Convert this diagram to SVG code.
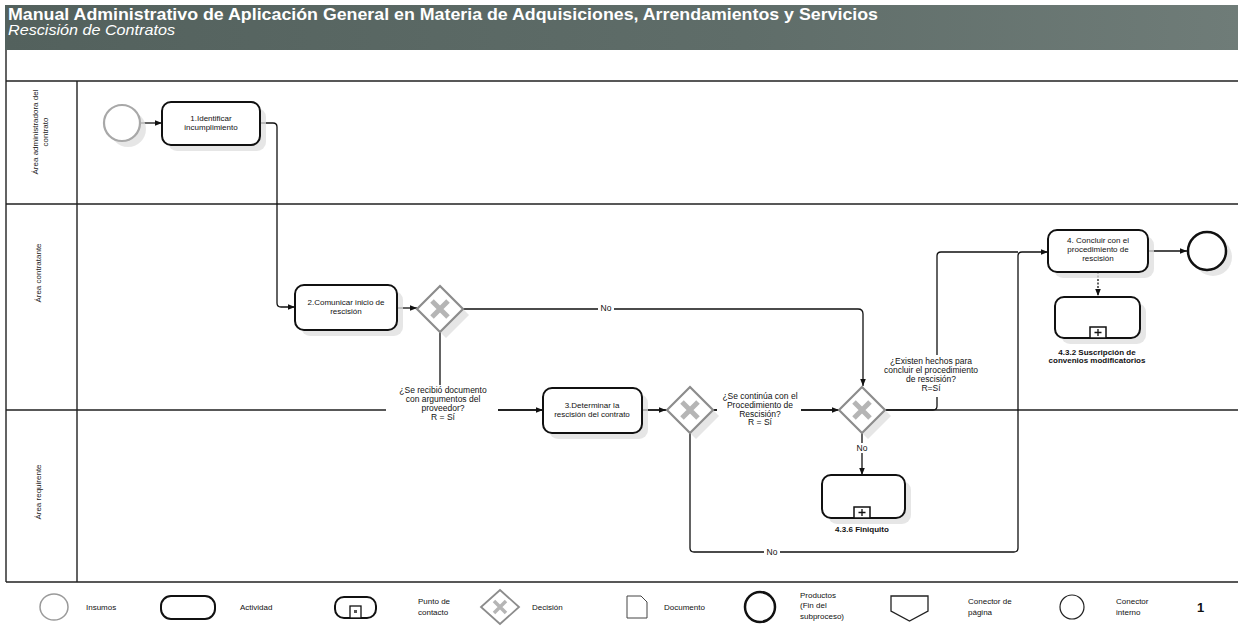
<svg xmlns="http://www.w3.org/2000/svg" width="1238" height="631" viewBox="0 0 1238 631">
<defs>
<linearGradient id="hdr" x1="0" y1="0" x2="1" y2="0">
<stop offset="0" stop-color="#53615d"/>
<stop offset="0.6" stop-color="#5f6d69"/>
<stop offset="1" stop-color="#6f7c78"/>
</linearGradient>
<marker id="arr" viewBox="0 0 10 10" refX="10" refY="5" markerWidth="7" markerHeight="7" orient="auto" markerUnits="userSpaceOnUse">
<path d="M0,1 L10,5 L0,9 Z" fill="#111"/>
</marker>
<g id="gw">
<path d="M0,-23 L23,0 L0,23 L-23,0 Z" fill="#fff" stroke="#8c8c8c" stroke-width="2.2"/>
<path d="M-8,-8 L8,8 M8,-8 L-8,8" stroke="#b5b5b5" stroke-width="5"/>
</g>
</defs>
<style>
text{font-family:"Liberation Sans",Arial,sans-serif;fill:#111}
.t{font-size:8px;text-anchor:middle}
.lb{font-size:8.5px;text-anchor:middle}
.b{font-weight:bold}
.ln{stroke:#222;stroke-width:1.4;fill:none}
.lane{font-size:8px;text-anchor:middle;fill:#222}
.task{fill:#fff;stroke:#111;stroke-width:2}
.sh{fill:#dedede;opacity:0.75}
.c{fill:none;stroke:#111;stroke-width:1.3}
.bg{fill:#fff}
.lg{font-size:8px}
</style>
<rect width="1238" height="631" fill="#fff"/>
<g id="header">
<rect x="5" y="5" width="1233" height="45" fill="url(#hdr)"/>
<text x="8" y="20" font-size="16" font-weight="bold" textLength="870" lengthAdjust="spacingAndGlyphs" style="fill:#fff">Manual Administrativo de Aplicación General en Materia de Adquisiciones, Arrendamientos y Servicios</text>
<text x="8" y="35" font-size="14" font-style="italic" textLength="167" lengthAdjust="spacingAndGlyphs" style="fill:#fff">Rescisión de Contratos</text>
</g>
<g id="lanes">
<path class="ln" d="M6,50 V582 M6,81 H1238 M6,204 H1238 M6,410 H1238 M6,582 H1238 M77,81 V582"/>
<text class="lane" transform="translate(40,132) rotate(-90)"><tspan x="0" y="-2">Área administradora del</tspan><tspan x="0" y="8">contrato</tspan></text>
<text class="lane" transform="translate(41,273) rotate(-90)">Área contratante</text>
<text class="lane" transform="translate(41,492) rotate(-90)">Área requirente</text>
</g>
<g id="connectors">
<path class="c" d="M140,123 H162" marker-end="url(#arr)"/>
<path class="c" d="M260,123 H273 Q277,123 277,127 V303 Q277,307 281,307 H295" marker-end="url(#arr)"/>
<path class="c" d="M397,308 H417" marker-end="url(#arr)"/>
<path class="c" d="M463,309 H858 Q863,309 863,314 V386" marker-end="url(#arr)"/>
<rect class="bg" x="598" y="302" width="16" height="10"/>
<text class="lb" x="606" y="311">No</text>
<path class="c" d="M440,331 V406 Q440,410 444,410 H543" marker-end="url(#arr)"/>
<rect class="bg" x="386" y="385" width="112" height="40"/>
<text class="lb"><tspan x="443" y="393">¿Se recibió documento</tspan><tspan x="443" y="402">con argumentos del</tspan><tspan x="443" y="411">proveedor?</tspan><tspan x="443" y="420">R = Sí</tspan></text>
<path class="c" d="M642,410 H666" marker-end="url(#arr)"/>
<path class="c" d="M713,410 H839" marker-end="url(#arr)"/>
<rect class="bg" x="717" y="391" width="84" height="36"/>
<text class="lb"><tspan x="760" y="399">¿Se continúa con el</tspan><tspan x="760" y="408">Procedimiento de</tspan><tspan x="760" y="417">Rescisión?</tspan><tspan x="760" y="425">R = Sí</tspan></text>
<path class="c" d="M862,433 V475" marker-end="url(#arr)"/>
<rect class="bg" x="855" y="443" width="14" height="10"/>
<text class="lb" x="862" y="451">No</text>
<path class="c" d="M690,433 V548 Q690,552 694,552 H1014 Q1018,552 1018,548 V256 Q1018,252 1022,252 H1048" marker-end="url(#arr)"/>
<rect class="bg" x="764" y="547" width="16" height="10"/>
<text class="lb" x="772" y="555">No</text>
<path class="c" d="M885,410 H933 Q937,410 937,406 V256 Q937,252 941,252 H1018"/>
<rect class="bg" x="880" y="355" width="102" height="42"/>
<text class="lb"><tspan x="931" y="364">¿Existen hechos para</tspan><tspan x="931" y="373">concluir el procedimiento</tspan><tspan x="931" y="382">de rescisión?</tspan><tspan x="931" y="391">R=Sí</tspan></text>
<path class="c" d="M1148,251 H1187" marker-end="url(#arr)"/>
<path class="c" d="M1098,272 V296" stroke-dasharray="2,1.5" marker-end="url(#arr)"/>
</g>
<g id="start">
<circle class="sh" cx="128" cy="129" r="18"/>
<circle cx="122" cy="123" r="18" fill="#fff" stroke="#a8a8a8" stroke-width="2.2"/>
</g>
<g id="task1">
<rect class="sh" x="168" y="108" width="98" height="43" rx="9"/>
<rect class="task" x="162" y="102" width="98" height="43" rx="9"/>
<text class="t"><tspan x="211" y="121">1.Identificar</tspan><tspan x="211" y="130">incumplimiento</tspan></text>
</g>
<g id="task2">
<rect class="sh" x="301" y="291" width="102" height="45" rx="9"/>
<rect class="task" x="295" y="285" width="102" height="45" rx="9"/>
<text class="t"><tspan x="346" y="305">2.Comunicar inicio de</tspan><tspan x="346" y="314">rescisión</tspan></text>
</g>
<g id="gateway1">
<path class="sh" d="M446,292 L469,315 L446,338 L423,315 Z"/>
<use href="#gw" x="440" y="309"/>
</g>
<g id="task3">
<rect class="sh" x="549" y="394" width="99" height="45" rx="9"/>
<rect class="task" x="543" y="388" width="99" height="45" rx="9"/>
<text class="t"><tspan x="592" y="408">3.Determinar la</tspan><tspan x="592" y="417">rescisión del contrato</tspan></text>
</g>
<g id="gateway2">
<path class="sh" d="M696,393 L719,416 L696,439 L673,416 Z"/>
<use href="#gw" x="690" y="410"/>
</g>
<g id="gateway3">
<path class="sh" d="M868,393 L891,416 L868,439 L845,416 Z"/>
<use href="#gw" x="862" y="410"/>
</g>
<g id="finiquito">
<rect class="sh" x="828" y="481" width="83" height="43" rx="9"/>
<rect class="task" x="822" y="475" width="83" height="43" rx="9"/>
<rect x="854" y="507" width="16" height="11" fill="#fff" stroke="#111" stroke-width="1.5"/>
<path d="M862,509 V516 M858.5,512.5 H865.5" stroke="#111" stroke-width="1.3"/>
<text class="t b" x="862" y="532">4.3.6  Finiquito</text>
</g>
<g id="task4">
<rect class="sh" x="1054" y="236" width="100" height="42" rx="9"/>
<rect class="task" x="1048" y="230" width="100" height="42" rx="9"/>
<text class="t"><tspan x="1098" y="243">4. Concluir con el</tspan><tspan x="1098" y="252">procedimiento de</tspan><tspan x="1098" y="261">rescisión</tspan></text>
</g>
<g id="end">
<circle class="sh" cx="1213" cy="257" r="19"/>
<circle cx="1207" cy="251" r="19" fill="#fff" stroke="#111" stroke-width="2.5"/>
</g>
<g id="sub432">
<rect class="sh" x="1061" y="303" width="85" height="41" rx="9"/>
<rect class="task" x="1055" y="297" width="85" height="41" rx="9"/>
<rect x="1090" y="327" width="16" height="11" fill="#fff" stroke="#111" stroke-width="1.5"/>
<path d="M1098,329 V336 M1094.5,332.5 H1101.5" stroke="#111" stroke-width="1.3"/>
<text class="t b"><tspan x="1097" y="355">4.3.2  Suscripción de</tspan><tspan x="1097" y="363">convenios modificatorios</tspan></text>
</g>
<g id="legend">
<ellipse cx="54" cy="607" rx="14" ry="13" fill="#fff" stroke="#9a9a9a" stroke-width="1.5"/>
<text class="lg" x="86" y="610">Insumos</text>
<rect x="161" y="596" width="54" height="23" rx="10" fill="#fff" stroke="#111" stroke-width="2"/>
<text class="lg" x="240" y="610">Actividad</text>
<rect x="335" y="597" width="41" height="21" rx="9" fill="#fff" stroke="#111" stroke-width="2"/>
<rect x="350" y="606" width="11" height="12" fill="#fff" stroke="#111" stroke-width="1.3"/>
<rect x="354" y="610" width="3" height="3" fill="#555"/>
<text class="lg"><tspan x="418" y="604">Punto de</tspan><tspan x="418" y="615">contacto</tspan></text>
<path d="M500,590 L519,607 L500,624 L481,607 Z" fill="#fff" stroke="#8c8c8c" stroke-width="1.8"/>
<path d="M494,601 L506,613 M506,601 L494,613" stroke="#b5b5b5" stroke-width="3.5"/>
<text class="lg" x="532" y="610">Decisión</text>
<path d="M627,596 H641 L647,602 V618 H627 Z" fill="#fff" stroke="#444" stroke-width="1"/>
<text class="lg" x="664" y="610">Documento</text>
<circle cx="760" cy="607" r="15" fill="#fff" stroke="#111" stroke-width="2.5"/>
<text class="lg"><tspan x="800" y="598">Productos</tspan><tspan x="800" y="608">(Fin del</tspan><tspan x="800" y="619">subproceso)</tspan></text>
<path d="M891,596 H928 V611 L909.5,621 L891,611 Z" fill="#fff" stroke="#222" stroke-width="1.3"/>
<text class="lg"><tspan x="968" y="604">Conector de</tspan><tspan x="968" y="615">página</tspan></text>
<circle cx="1072" cy="607" r="12" fill="#fff" stroke="#222" stroke-width="1.2"/>
<text class="lg"><tspan x="1116" y="604">Conector</tspan><tspan x="1116" y="615">interno</tspan></text>
<text x="1197" y="612" font-size="13" font-weight="bold">1</text>
</g>
</svg>
